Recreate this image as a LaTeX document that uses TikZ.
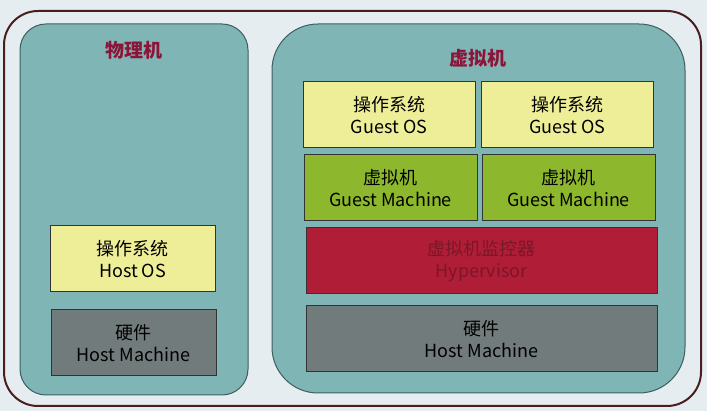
\documentclass[tikz,border=0pt]{standalone}
\usepackage{fontspec}
\setmainfont{Noto Sans CJK SC}
\usetikzlibrary{positioning}

\definecolor{bgcol}{HTML}{E6EDF1}
\definecolor{framecol}{HTML}{4A1E1E}
\definecolor{panelcol}{HTML}{80B5B6}
\definecolor{paneledge}{HTML}{3C5E5E}
\definecolor{titlecol}{HTML}{8A1538}
\definecolor{oscol}{HTML}{EEEE98}
\definecolor{gmcol}{HTML}{8DB72C}
\definecolor{hvcol}{HTML}{B01D36}
\definecolor{hvtext}{HTML}{7C1628}
\definecolor{hwcol}{HTML}{727B7B}

\tikzset{
    layer/.style={draw=black!80, line width=1pt, inner sep=0pt, align=center,
        minimum height=66pt, font=\fontsize{18}{22}\selectfont, text=black},
    oslayer/.style={layer, fill=oscol, minimum width=172pt},
    gmlayer/.style={layer, fill=gmcol, minimum width=173pt},
    hvlayer/.style={layer, fill=hvcol, text=hvtext, minimum width=351pt},
    hwlayer/.style={layer, fill=hwcol, minimum width=351pt},
    panel/.style={draw=paneledge, fill=panelcol, line width=1pt},
    paneltitle/.style={font=\fontsize{19}{22}\selectfont\bfseries, text=titlecol}
}

\begin{document}
\begin{tikzpicture}[x=1pt,y=-1pt]
\useasboundingbox (0,0) rectangle (707,411);
\fill[bgcol] (0,0) rectangle (707,411);
% outer frame
\draw[framecol, line width=2pt, rounded corners=34pt] (4,11) rectangle (701,406);

% physical machine
\draw[panel, rounded corners=26pt] (20,24) rectangle (248,395);
\node[paneltitle] (phystitle) at (134,50) {物理机};
\node[oslayer, minimum width=165pt] (hostos) at (132.5,259) {操作系统\\Host OS};
\node[hwlayer, minimum width=165pt] (hosthw) at (133.5,343) {硬件\\Host Machine};

% virtual machine
\draw[panel, rounded corners=46pt] (272,24) rectangle (685,393);
\node[paneltitle] (virttitle) at (478,58) {虚拟机};
\node[oslayer] (guestosa) at (389,115) {操作系统\\Guest OS};
\node[oslayer] (guestosb) at (567.5,115) {操作系统\\Guest OS};
\node[gmlayer] (guestvma) at (390.5,188) {虚拟机\\Guest Machine};
\node[gmlayer] (guestvmb) at (568.5,188) {虚拟机\\Guest Machine};
\node[hvlayer] (hypervisor) at (481.5,261) {虚拟机监控器\\Hypervisor};
\node[hwlayer] (virthw) at (481.5,339) {硬件\\Host Machine};
\end{tikzpicture}
\end{document}
